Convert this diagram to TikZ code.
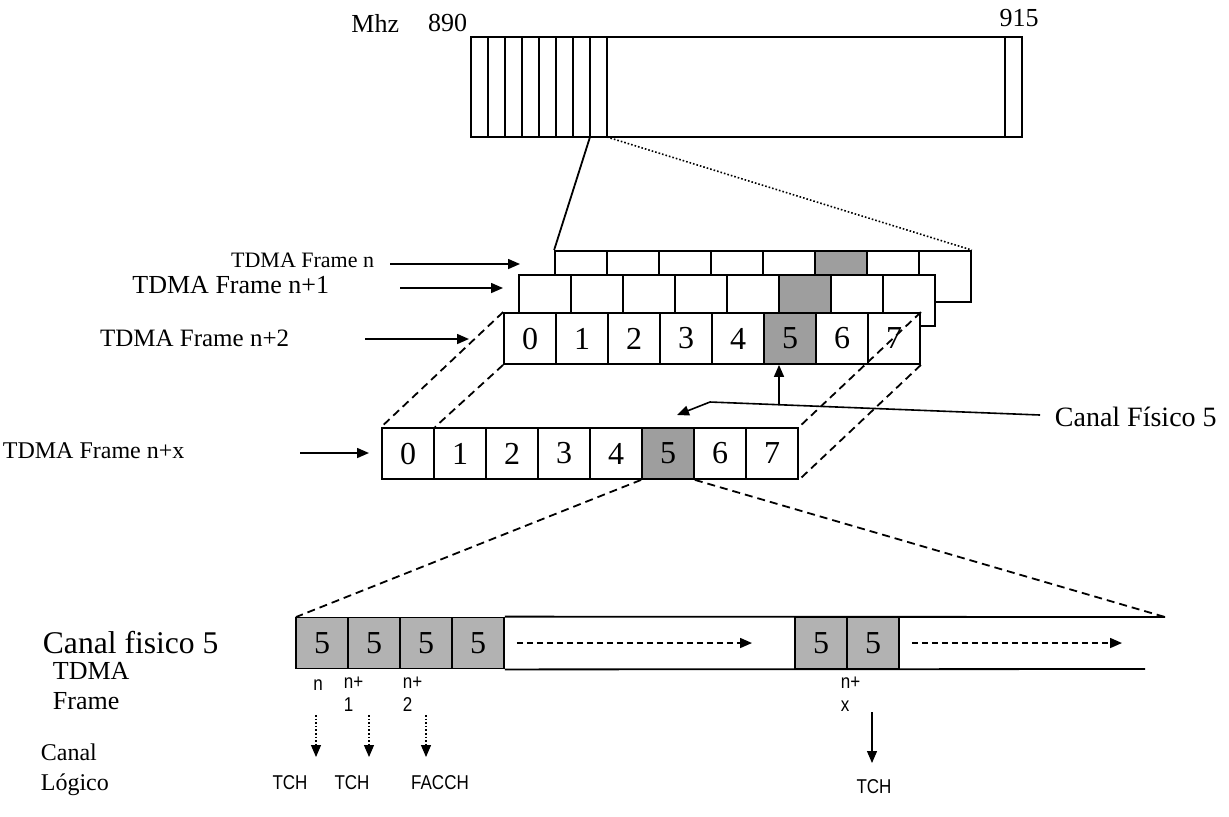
\documentclass[tikz,border=0pt]{standalone}
\usepackage{fontspec}
\setmainfont{Liberation Serif}
\newfontfamily\narrowsans[FakeStretch=0.85]{Liberation Sans}
\usetikzlibrary{arrows.meta, positioning, calc}
\tikzset{
  every picture/.style={line width=0.9pt},
  cell/.style={draw, fill=white, minimum width=26pt, minimum height=25.5pt, inner sep=0pt,
               font=\fontsize{16}{16}\selectfont},
  hot/.style={cell, fill=black!38},
  arr/.style={-{Triangle[length=6pt, width=5pt]}, line width=0.8pt},
  dotarr/.style={arr, densely dotted, line width=0.6pt},
  dashline/.style={dash pattern=on 4pt off 2.5pt, line width=0.9pt},
  lbl/.style={font=\fontsize{12}{14}\selectfont, inner sep=0pt},
  tiny/.style={font=\narrowsans\fontsize{10}{11.5}\selectfont, inner sep=1pt, align=left},
}
\begin{document}
\begin{tikzpicture}[x=0.5pt, y=-0.5pt]
  \useasboundingbox (0,0) rectangle (1229,816);
  % frequency band
  \node[lbl, font=\fontsize{13}{15}\selectfont, anchor=east] (mhz) at (400,23) {Mhz};
  \node[lbl, font=\fontsize{13}{15}\selectfont, anchor=east] (f890) at (468,23) {890};
  \node[lbl, font=\fontsize{13}{15}\selectfont] (f915) at (1019,18) {915};
  \node[draw, minimum width=275.5pt, minimum height=50pt, inner sep=0pt] (band) at (746.5,87) {};
  \foreach \k in {1,...,8} \draw (471+17*\k,37) -- ++(0,100);
  \draw (1005,37) -- ++(0,100);
  \coordinate (tapL) at (590,137);
  \coordinate (tapR) at (607,137);

  % stacked TDMA frames, back to front
  \foreach \f/\x/\y in {A/555/276.5, B/519/300.5} {
    \foreach \i in {0,...,7} \node[cell] (f\f\i) at (\x+26+52*\i,\y) {};
    \node[hot] at (f\f5) {};
  }
  \foreach \i in {0,...,7} \node[cell] (fC\i) at (530+52*\i,338.5) {\i};
  \node[hot] at (fC5) {5};
  \foreach \i in {0,...,7} \node[cell] (fX\i) at (408+52*\i,453.5) {\i};
  \node[hot] at (fX5) {5};

  \draw (tapL) -- (fA0.north west);
  \draw[densely dotted, line width=0.8pt] (tapR) -- (fA7.north east);

  % box edges between frame n+2 and frame n+x
  \draw[dashline] (fC0.north west) -- (fX0.north west);
  \draw[dashline] (fC0.south west) -- (fX0.north east);
  \draw[dashline] (fC7.north east) -- (fX7.north east);
  \draw[dashline] (fC7.south east) -- (fX7.south east);

  % frame labels
  \node[lbl, font=\fontsize{11}{13}\selectfont, anchor=east] (lA) at (375,260) {TDMA Frame n};
  \node[lbl, font=\fontsize{13}{15}\selectfont, anchor=east] (lB) at (330,285) {TDMA Frame n+1};
  \node[lbl, font=\fontsize{12.5}{15}\selectfont, anchor=east] (lC) at (290,338) {TDMA Frame n+2};
  \node[lbl, anchor=west] (lX) at (2,451) {TDMA Frame n+x};
  \coordinate (pA) at (520,264);
  \coordinate (pB) at (503,288);
  \coordinate (pC) at (469,339);
  \coordinate (pX) at (369,453);
  \draw[arr] (lA.east) ++(15,4) -- (pA);
  \draw[arr] (lB.east) ++(70,3) -- (pB);
  \draw[arr] (lC.east) ++(75,1) -- (pC);
  \draw[arr] (lX.east) ++(115,2) -- (pX);

  % physical channel 5
  \node[lbl, font=\fontsize{14}{16}\selectfont, anchor=west] (canal) at (1054,417) {Canal Físico 5};
  \coordinate (bend) at (710,402);
  \coordinate (pin) at (677,415);
  \coordinate (tap) at (779,404.5);
  \draw[arr] (canal.west) ++(-14,-2) -- (bend) -- (pin);
  \draw[arr] (tap) -- (tap |- fC5.south);

  % channel 5 over successive frames
  \coordinate (stripTL) at (296,617);
  \coordinate (stripTR) at (1165,617);
  \coordinate (stripBR) at (1145,669);
  \foreach \i in {0,...,3} \node[hot, fill=black!30] (q\i) at (322+52*\i,643) {5};
  \draw (q3.north east) -- (stripTR);
  \draw (q3.south east) -- (stripBR);
  \node[hot, fill=black!30] (q4) at (821,643) {5};
  \node[hot, fill=black!30] (q5) at (873,643) {5};
  \draw[dash pattern=on 3pt off 2pt, line width=0.8pt, -{Triangle[length=6pt, width=5pt]}] (q3.east) ++(12,0) -- (752,643);
  \draw[dash pattern=on 3pt off 2pt, line width=0.8pt, -{Triangle[length=6pt, width=5pt]}] (q5.east) ++(12,0) -- (1122,643);
  \draw[dashline] (fX5.south west) -- (stripTL);
  \draw[dashline] (fX5.south east) -- (stripTR);

  % left captions
  \node[lbl, font=\fontsize{15.8}{17}\selectfont, anchor=west] (cf) at (42,643) {Canal fisico 5};
  \node[lbl, font=\fontsize{13}{15}\selectfont, anchor=west] (cft) at (52,671) {TDMA};
  \node[lbl, font=\fontsize{13}{15}\selectfont, anchor=west] (cff) at (52,701) {Frame};
  \node[lbl, anchor=west] (cl) at (40,752) {Canal};
  \node[lbl, anchor=west] (clg) at (40,785) {Lógico};

  % frame numbers and logical channels
  \node[tiny] (ln) at (318,685) {n};
  \node[tiny, anchor=north west] (ln1) at (341,674) {n+\\1};
  \node[tiny, anchor=north west] (ln2) at (400,674) {n+\\2};
  \node[tiny, anchor=north west] (lnx) at (838,674) {n+\\x};
  \node[tiny] (t1) at (290,783) {TCH};
  \node[tiny] (t2) at (352,783) {TCH};
  \node[tiny] (t3) at (440,783) {FACCH};
  \node[tiny] (tx) at (874,787) {TCH};
  \coordinate (a1) at (316,715);
  \coordinate (a2) at (369,715);
  \coordinate (a3) at (426,715);
  \coordinate (ax) at (872,712);
  \draw[dotarr] (a1) -- ++(0,42);
  \draw[dotarr] (a2) -- ++(0,42);
  \draw[dotarr] (a3) -- ++(0,42);
  \draw[arr, line width=0.6pt] (ax) -- ++(0,51);
\end{tikzpicture}
\end{document}
